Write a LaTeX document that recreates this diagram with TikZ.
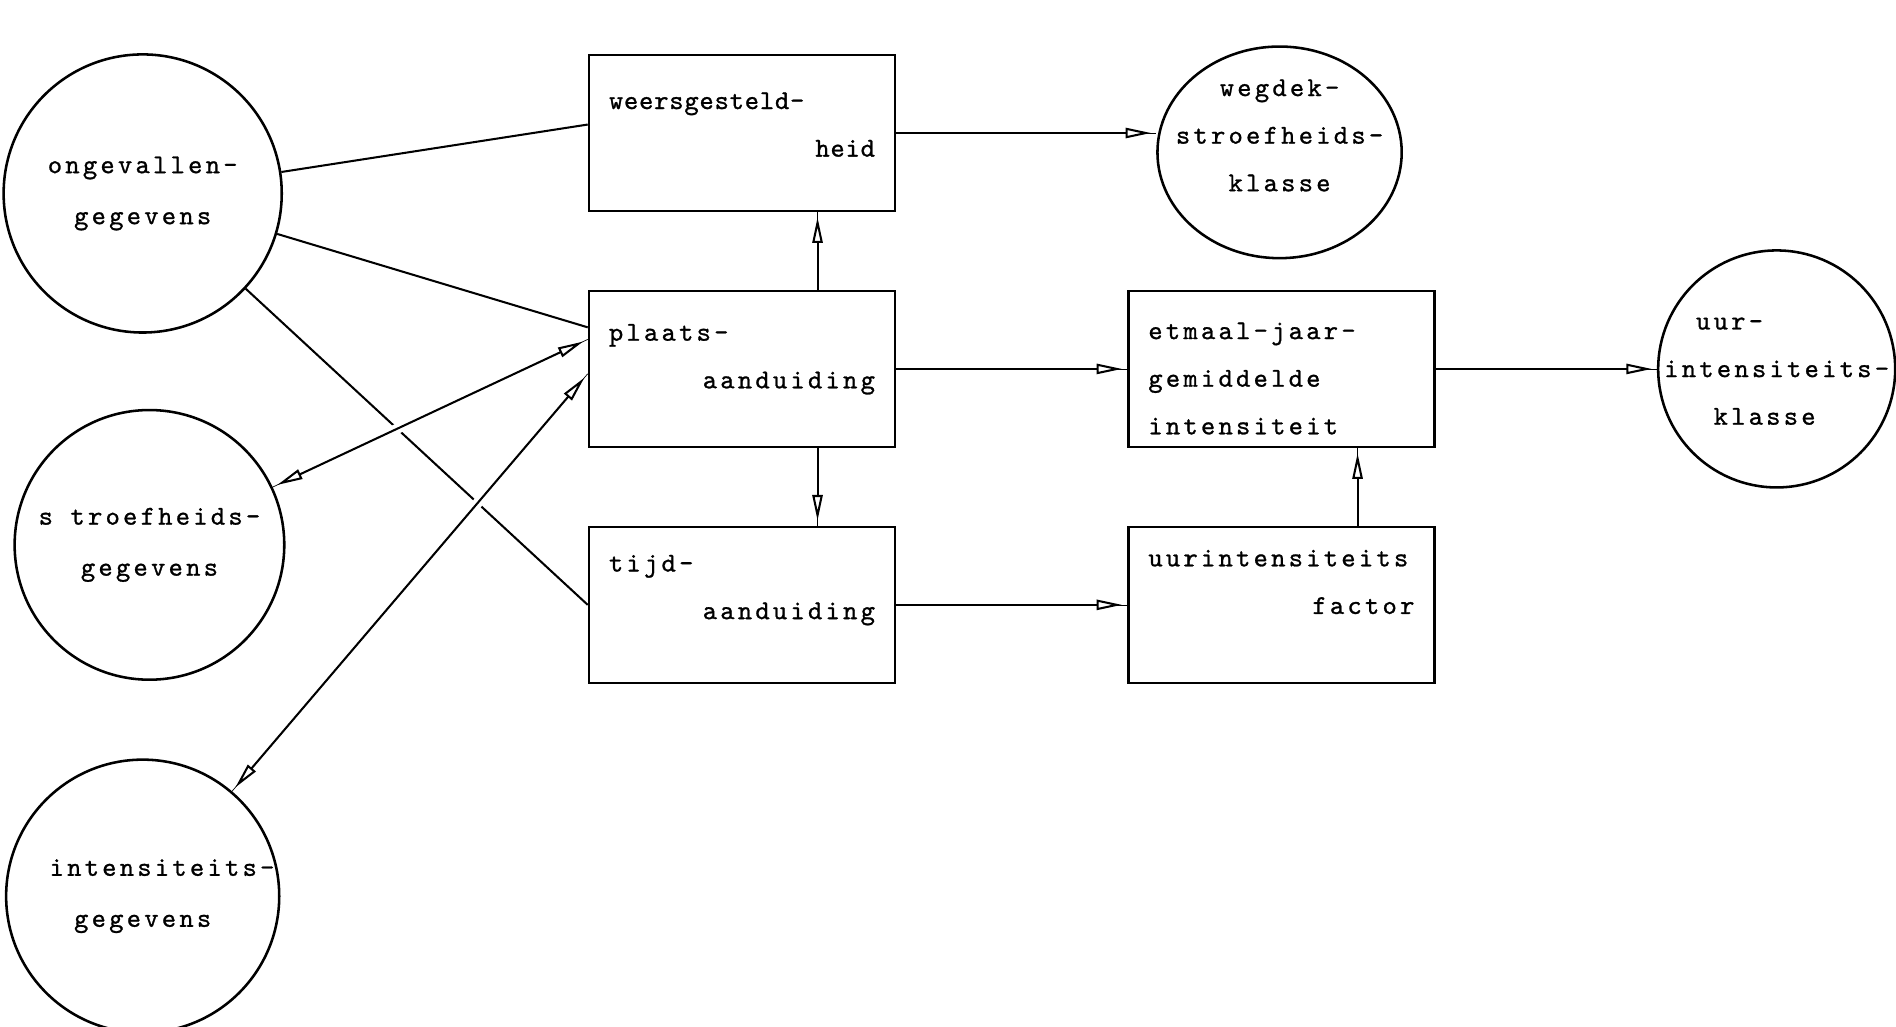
\documentclass[tikz,border=0pt]{standalone}
\usepackage{fontspec}
\usepackage{tikz}
\usetikzlibrary{positioning,arrows.meta,shapes.geometric,backgrounds}
\newfontfamily\typefont{lmmono10-regular}[Extension=.otf,LetterSpace=12,FakeBold=1]
\newfontfamily\typefontnarrow{lmmono10-regular}[Extension=.otf,LetterSpace=3,FakeBold=1]
\tikzset{
  typewriter/.style={font=\typefont\fontsize{16}{28}\selectfont},
  narrow/.style={font=\typefontnarrow\fontsize{16}{28}\selectfont},
  data node/.style={circle,draw,line width=1.5pt,minimum size=5.75cm,inner sep=0pt,align=center,typewriter,font=\typefont\fontsize{16}{30}\selectfont},
  proc box/.style={rectangle,draw,line width=1.5pt,minimum width=6.325cm,minimum height=3.225cm,text width=5.5cm,align=left,typewriter},
  link/.style={line width=1.2pt},
  flow/.style={link,preaction={draw,arrows=-},-{Triangle[fill=white,length=15pt,width=6pt,sep=3pt]}},
  both ways/.style={link,preaction={draw,arrows=-},
    {Triangle[fill=white,length=15pt,width=6pt,sep=3pt]}-{Triangle[fill=white,length=15pt,width=6pt,sep=3pt]}},
  gap/.style={preaction={draw=white,line width=6pt,arrows=-}},
}

\begin{document}
\begin{tikzpicture}
  \useasboundingbox (0,0) rectangle (39.2,-21.225);

  % gegevens
  \node[data node] (ongev) at (2.95,-4.0) {ongevallen-\\gegevens};
  \node[data node,minimum size=5.575cm] (stroef) [below=1.55cm of ongev,xshift=0.14cm] {s troefheids-\\gegevens};
  \node[data node,minimum size=5.55cm] (intens) [below=1.6cm of stroef,xshift=-0.14cm] {\hspace*{0.8cm}intensiteits-\\gegevens};

  % bewerkingen
  \node[proc box,narrow,text depth=38pt] (weers) at (15.34,-2.75) {weersgesteld-\\\hspace*{\fill}heid};
  \node[proc box,text depth=43pt] (plaats) [below=1.6cm of weers] {plaats-\\\hspace*{\fill}aanduiding};
  \node[proc box,text depth=49pt] (tijd) [below=1.6cm of plaats] {tijd-\\\hspace*{\fill}aanduiding};
  \node[proc box,text height=21pt] (etmaal) [right=4.775cm of plaats] {etmaal-jaar-\\gemiddelde\\intensiteit};
  \node[proc box,text depth=55pt] (factor) [right=4.775cm of tijd] {uurintensiteits\\\hspace*{\fill}factor};

  % klassen
  \node[ellipse,draw,line width=1.5pt,minimum width=5.05cm,minimum height=4.375cm,inner sep=0pt,
        label={[typewriter,align=center,yshift=0.35cm]center:wegdek-\\stroefheids-\\klasse}]
        (wegdek) [right=5.375cm of weers,yshift=-0.4cm] {};
  \node[data node,minimum size=4.9cm,
        label={[typewriter,align=left]center:\phantom{in}uur-\\intensiteits-\\\phantom{int}klasse}]
        (uur) [right=4.575cm of etmaal] {};

  \begin{scope}[on background layer]
    \draw[link] (ongev) -- ([yshift=0.175cm]weers.west);
    \draw[link] (ongev) -- ([yshift=0.86cm]plaats.west);
    \draw[link] (ongev) -- (tijd.west);
    \draw[gap,both ways] ([yshift=0.61cm]plaats.west) -- (stroef);
    \draw[gap,both ways] ([yshift=-0.1cm]plaats.west) -- (intens);

    \draw[flow] ([xshift=1.5625cm]plaats.north) -- ([xshift=1.5625cm]weers.south);
    \draw[flow] ([xshift=1.5625cm]plaats.south) -- ([xshift=1.5625cm]tijd.north);
    \draw[flow] (weers.east) -- (weers.east -| wegdek.west);
    \draw[flow] (plaats) -- (etmaal);
    \draw[flow] (tijd) -- (factor);
    \draw[flow] ([xshift=1.575cm]factor.north) -- ([xshift=1.575cm]etmaal.south);
    \draw[flow] (etmaal) -- (uur);
  \end{scope}
\end{tikzpicture}
\end{document}
